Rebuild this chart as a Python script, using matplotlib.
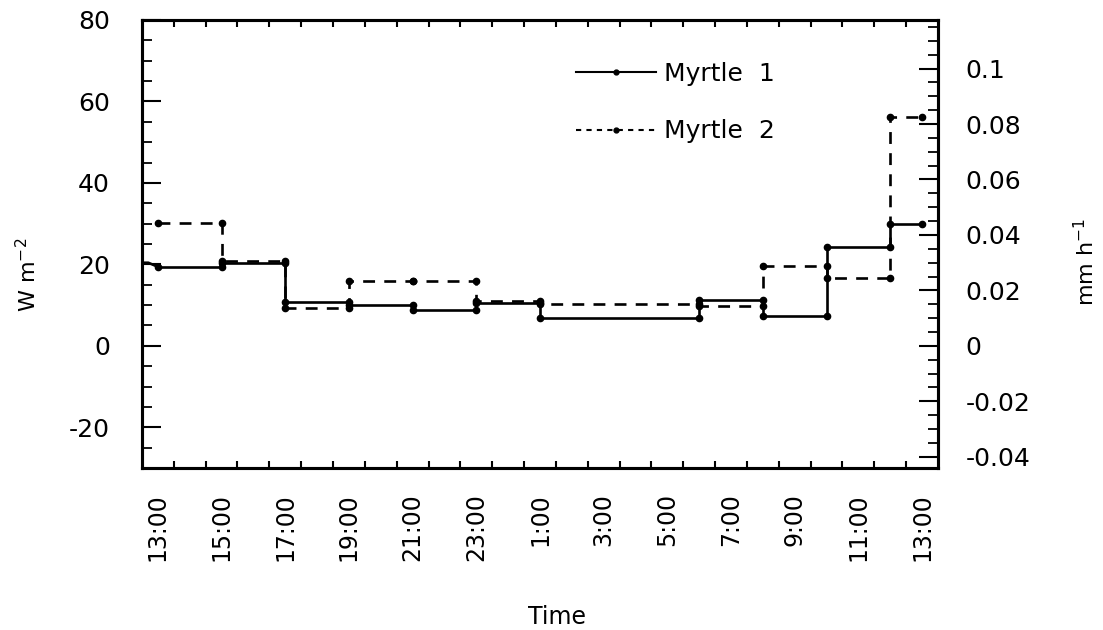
import numpy as np
import matplotlib
matplotlib.use("Agg")
import matplotlib.pyplot as plt
from matplotlib.lines import Line2D
from matplotlib.ticker import MultipleLocator, FixedLocator

plt.rcParams["font.family"] = ["DejaVu Sans"]
plt.rcParams["axes.unicode_minus"] = False

# hours after 13:00, interval boundaries shared by both sites
bounds = [0, 2, 4, 6, 8, 10, 12, 17, 19, 21, 23, 24]
myrtle1 = [19.4, 20.3, 10.8, 10.0, 8.8, 10.4, 6.75, 11.2, 7.3, 24.3, 29.9]
myrtle2 = [30.1, 20.8, 9.4, 15.9, 15.9, 11.0, 10.3, 9.8, 19.7, 16.6, 56.1]
# short lead-in of Myrtle 1 from the left edge
m1_lead_t = [-0.5, -0.3, 0]
m1_lead_v = [20.4, 20.4, 19.4]

tick_hours = list(range(0, 25, 2))
tick_labels = ["13:00", "15:00", "17:00", "19:00", "21:00", "23:00", "1:00",
               "3:00", "5:00", "7:00", "9:00", "11:00", "13:00"]
right_ticks = [-0.04, -0.02, 0, 0.02, 0.04, 0.06, 0.08, 0.1]
right_labels = ["-0.04", "-0.02", "0", "0.02", "0.04", "0.06", "0.08", "0.1"]

W_PER_MM_H = 680.6   # latent heat: 1 mm/h of water ~ 680 W m-2


def steps(b, vals):
    t, v = [], []
    for i, val in enumerate(vals):
        t += [b[i], b[i + 1]]
        v += [val, val]
    return t, v


fig = plt.figure(figsize=(11.03, 6.30), dpi=100)
ax = fig.add_axes([0.1287, 0.2571, 0.7217, 0.7112])

t1, v1 = steps(bounds, myrtle1)
t2, v2 = steps(bounds, myrtle2)
ax.plot(m1_lead_t, m1_lead_v, color="black", lw=1.9)
ax.plot(t1, v1, color="black", lw=1.9, marker="o", ms=4.5)
ax.plot(t2, v2, color="black", lw=1.9, marker="o", ms=4.5,
        linestyle=(0, (4.5, 3.5)))

ax.set_xlim(-0.5, 24.5)
ax.set_ylim(-30, 80)

ax.xaxis.set_major_locator(FixedLocator(tick_hours))
ax.set_xticklabels(tick_labels, rotation=90, fontsize=17)
ax.xaxis.set_minor_locator(FixedLocator(np.arange(0.5, 24, 1)))
ax.tick_params(axis="x", which="major", length=0, pad=18)
ax.tick_params(axis="x", which="minor", direction="in", length=5, width=1.5,
               top=True, bottom=True)

ax.yaxis.set_major_locator(MultipleLocator(20))
ax.yaxis.set_minor_locator(MultipleLocator(5))
ax.tick_params(axis="y", which="major", direction="in", length=14, width=1.5,
               labelsize=18, pad=23)
ax.tick_params(axis="y", which="minor", direction="in", length=7, width=1.3)

for s in ax.spines.values():
    s.set_linewidth(2.2)

ax.set_ylabel("W m$^{-2}$", fontsize=16)
ax.yaxis.set_label_coords(-0.128, 0.43)
ax.set_xlabel("Time", fontsize=17)
ax.xaxis.set_label_coords(0.521, -0.305)

ax2 = ax.twinx()
ax2.set_ylim(-30 / W_PER_MM_H, 80 / W_PER_MM_H)
ax2.yaxis.set_major_locator(FixedLocator(right_ticks))
ax2.set_yticklabels(right_labels)
ax2.yaxis.set_minor_locator(MultipleLocator(0.005))
ax2.tick_params(axis="y", which="major", direction="in", length=14, width=1.5,
                labelsize=18, pad=20)
ax2.tick_params(axis="y", which="minor", direction="in", length=7, width=1.3)
ax2.set_ylabel("mm h$^{-1}$", fontsize=16)
ax2.yaxis.set_label_coords(1.17, 0.46)
for s in ax2.spines.values():
    s.set_linewidth(2.2)

handles = [
    Line2D([], [], color="black", lw=1.5, marker="o", ms=3.5),
    Line2D([], [], color="black", lw=1.5, marker="o", ms=3.5,
           linestyle=(0, (2.5, 2.5))),
]
ax.legend(handles, ["Myrtle  1", "Myrtle  2"], loc="upper left",
          bbox_to_anchor=(0.53, 0.935), frameon=False, fontsize=18,
          handlelength=3.2, handletextpad=0.3, labelspacing=1.35,
          numpoints=1, borderpad=0)

fig.savefig("out.png", dpi=100)
